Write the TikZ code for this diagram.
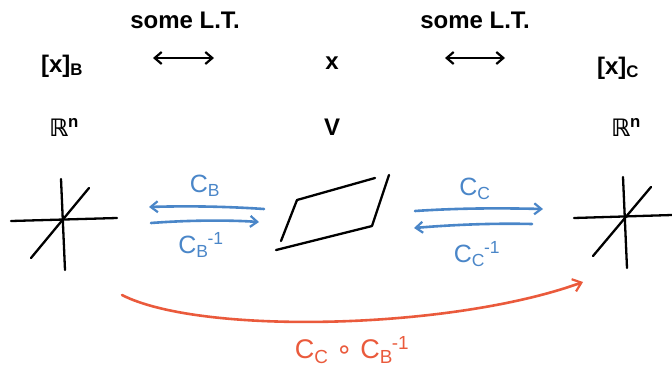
\documentclass[tikz,border=0pt]{standalone}
\usepackage{fontspec}
\setmainfont{Liberation Sans}
\newfontfamily\symfont{DejaVu Sans}
\usetikzlibrary{arrows.meta}
\definecolor{penblue}{HTML}{4A86C8}
\definecolor{penred}{HTML}{EA5A3C}
\newcommand{\sbs}[1]{\textsubscript{#1}}
\newcommand{\sps}[1]{\textsuperscript{#1}}
\begin{document}
\begin{tikzpicture}[x=1pt,y=-1pt,
  lbl/.style={font=\fontsize{24}{26}\selectfont\bfseries, inner sep=0pt},
  ink/.style={line width=2.3pt, line cap=round, line join=round},
  bluearrow/.style={penblue, line width=2.6pt, line cap=round, -{Straight Barb[length=7pt,width=11pt,line width=2.2pt]}},
  bluelbl/.style={penblue, font=\fontsize{25}{27}\selectfont, inner sep=0pt},
  dbl/.style={line width=2.4pt, {Straight Barb[length=7pt,width=12pt,line width=2.2pt]}-{Straight Barb[length=7pt,width=12pt,line width=2.2pt]}}]
\useasboundingbox (0,0) rectangle (672,373);
% top text
\node[lbl] (ltL) at (185,20) {some L.T.};
\node[lbl] (ltR) at (475,20) {some L.T.};
\node[lbl] (xB) at (62,66) {[x]\sbs{B}};
\node[lbl] (x) at (332,63) {x};
\node[lbl] (xC) at (618,68) {[x]\sbs{C}};
\coordinate (a1) at (153,58); \coordinate (a2) at (214,58);
\coordinate (a3) at (445,58); \coordinate (a4) at (505,58);
\draw[dbl] (a1) -- (a2);
\draw[dbl] (a3) -- (a4);
\node[lbl] (RnL) at (64,127) {{\symfont\bfseries ℝ}\sps{n}};
\node[lbl] (V) at (332,127) {V};
\node[lbl] (RnR) at (626,127) {{\symfont\bfseries ℝ}\sps{n}};
% left axes
\draw[ink] (11,221) -- (117,218);
\draw[ink] (61,179) -- (65,270);
\draw[ink] (31,258) -- (89,188);
% right axes
\draw[ink] (574,218) -- (672,215);
\draw[ink] (623,177) -- (627,268);
\draw[ink] (593,256) -- (651,187);
% parallelogram
\draw[ink] (276,250) -- (372,226) -- (389,175);
\draw[ink] (297,200) -- (375,178);
\draw[ink] (297,200) -- (281,241);
% blue arrows
\coordinate (b1) at (264,209); \coordinate (b2) at (149,207);
\coordinate (b3) at (151,223); \coordinate (b4) at (259,222);
\draw[bluearrow] (b1) .. controls (220,206) and (180,206) .. (b2);
\draw[bluearrow] (b3) .. controls (190,220) and (230,220) .. (b4);
\node[bluelbl] (CB) at (205,186) {C\sbs{B}};
\node[bluelbl] (CBi) at (201,245) {C\sbs{B}\kern-1pt\sps{-1}};
\coordinate (c1) at (415,211); \coordinate (c2) at (543,209);
\coordinate (c3) at (532,224); \coordinate (c4) at (414,228);
\draw[bluearrow] (c1) .. controls (460,208) and (500,208) .. (c2);
\draw[bluearrow] (c3) .. controls (490,223) and (450,225) .. (c4);
\node[bluelbl] (CC) at (475,189) {C\sbs{C}};
\node[bluelbl] (CCi) at (477,254) {C\sbs{C}\kern-1pt\sps{-1}};
% red curve
\coordinate (r1) at (122,295); \coordinate (r2) at (583,282);
\draw[penred, line width=2.6pt, line cap=round, -{Straight Barb[length=8pt,width=13pt,line width=2.2pt]}]
  (r1) .. controls (200,335) and (450,330) .. (r2);
\node[penred, font=\fontsize{27}{29}\selectfont, inner sep=0pt] (comp) at (352,350) {C\sbs{C} {\symfont ∘} C\sbs{B}\kern-1pt\sps{-1}};
\end{tikzpicture}
\end{document}
